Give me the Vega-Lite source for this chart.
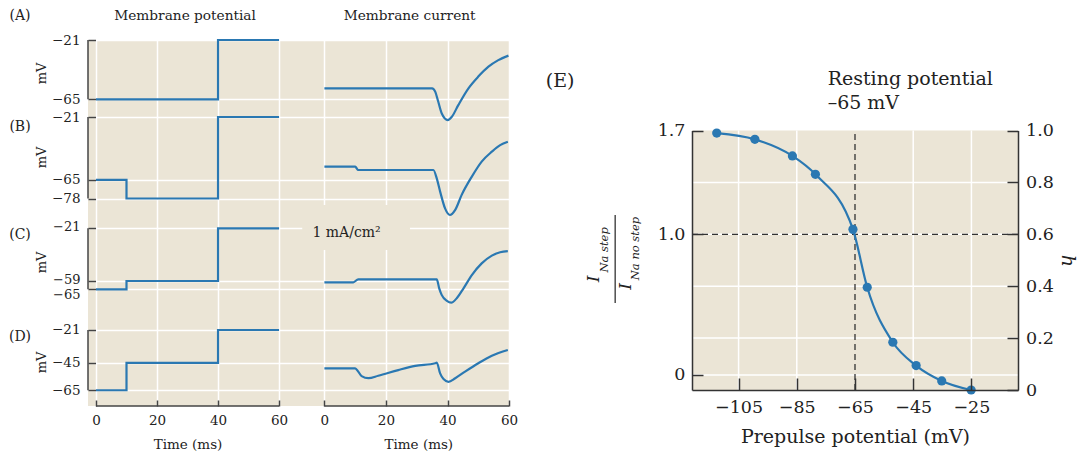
{
"$schema": "https://vega.github.io/schema/vega-lite/v6.json",
"width": 422, "height": 366,
"autosize": {"type": "none"},
"padding": {"left": 88, "top": 40, "right": 570, "bottom": 49},
"background": "white",
"view": {"fill": "#ebe5d6", "stroke": null},
"config": {"font": "DejaVu Serif", "axis": {"labelColor": "#222", "titleColor": "#222", "titleFontWeight": "normal", "labelOverlap": false, "labelFlush": false, "gridOpacity": 1}, "text": {"color": "#222"}},
"datasets": {
 "pot": [
  {"row":"A","t":0,"v":-65},{"row":"A","t":40,"v":-21},{"row":"A","t":60,"v":-21},
  {"row":"B","t":0,"v":-65},{"row":"B","t":10,"v":-78},{"row":"B","t":40,"v":-21},{"row":"B","t":60,"v":-21},
  {"row":"C","t":0,"v":-65},{"row":"C","t":10,"v":-59},{"row":"C","t":40,"v":-21},{"row":"C","t":60,"v":-21},
  {"row":"D","t":0,"v":-65},{"row":"D","t":10,"v":-45},{"row":"D","t":40,"v":-21},{"row":"D","t":60,"v":-21}
 ],
 "cur": [
  {"row":"A","t":0,"i":0},{"row":"A","t":35,"i":0},{"row":"A","t":36,"i":-0.11},{"row":"A","t":37,"i":-0.45},{"row":"A","t":38.1,"i":-0.83},{"row":"A","t":40.1,"i":-1.06},{"row":"A","t":41.4,"i":-0.95},{"row":"A","t":43.5,"i":-0.56},{"row":"A","t":46.8,"i":0},{"row":"A","t":50,"i":0.39},{"row":"A","t":53.3,"i":0.72},{"row":"A","t":56.5,"i":0.94},{"row":"A","t":59.8,"i":1.09},
  {"row":"B","t":0,"i":0},{"row":"B","t":10,"i":0},{"row":"B","t":11,"i":-0.11},{"row":"B","t":35.4,"i":-0.11},{"row":"B","t":36.5,"i":-0.39},{"row":"B","t":37.6,"i":-0.83},{"row":"B","t":39.2,"i":-1.39},{"row":"B","t":40.8,"i":-1.61},{"row":"B","t":42.5,"i":-1.44},{"row":"B","t":44.6,"i":-0.94},{"row":"B","t":47.9,"i":-0.33},{"row":"B","t":51.1,"i":0.17},{"row":"B","t":54.4,"i":0.5},{"row":"B","t":57.1,"i":0.72},{"row":"B","t":59.6,"i":0.83},
  {"row":"C","t":0,"i":0},{"row":"C","t":9.4,"i":0},{"row":"C","t":11,"i":0.1},{"row":"C","t":36.5,"i":0.1},{"row":"C","t":37.3,"i":-0.2},{"row":"C","t":38.1,"i":-0.42},{"row":"C","t":39.8,"i":-0.62},{"row":"C","t":41.2,"i":-0.68},{"row":"C","t":43,"i":-0.53},{"row":"C","t":45.2,"i":-0.2},{"row":"C","t":47.9,"i":0.24},{"row":"C","t":51.1,"i":0.63},{"row":"C","t":54.4,"i":0.89},{"row":"C","t":57.1,"i":1.0},{"row":"C","t":59.6,"i":1.04},
  {"row":"D","t":0,"i":0},{"row":"D","t":10,"i":0},{"row":"D","t":11,"i":-0.11},{"row":"D","t":12.1,"i":-0.26},{"row":"D","t":14.3,"i":-0.33},{"row":"D","t":17.5,"i":-0.25},{"row":"D","t":24,"i":-0.06},{"row":"D","t":29.5,"i":0.08},{"row":"D","t":36,"i":0.17},{"row":"D","t":36.5,"i":0.19},{"row":"D","t":37.6,"i":-0.17},{"row":"D","t":38.7,"i":-0.36},{"row":"D","t":40.3,"i":-0.45},{"row":"D","t":42.5,"i":-0.33},{"row":"D","t":45.7,"i":-0.11},{"row":"D","t":50,"i":0.17},{"row":"D","t":54.4,"i":0.42},{"row":"D","t":59.6,"i":0.61}
 ],
 "inact": [
  {"V":-112.5,"h":0.99},{"V":-99.4,"h":0.966},{"V":-86.5,"h":0.902},{"V":-78.6,"h":0.831},{"V":-65.7,"h":0.619},{"V":-60.8,"h":0.396},{"V":-52,"h":0.184},{"V":-44,"h":0.094},{"V":-35.2,"h":0.035},{"V":-25.1,"h":0.0}
 ],
 "egv": [{"V":-105},{"V":-85},{"V":-45},{"V":-25}],
 "egh": [{"h":0.058},{"h":0.2},{"h":0.4},{"h":0.6},{"h":0.8}]
},
"resolve": {"scale": {"x": "independent", "y": "independent"}, "axis": {"x": "independent", "y": "independent"}},
"layer": [
 {"resolve": {"axis": {"x": "independent", "y": "independent"}},
  "layer": [
  {"data": {"name": "pot"}, "transform": [{"filter": "datum.row === 'A'"}],
   "mark": {"type": "line", "interpolate": "step-after", "color": "#2a78b2", "strokeWidth": 2.2},
   "encoding": {
    "x": {"field": "t", "type": "quantitative", "scale": {"domain": [-2.62, 135.7], "zero": false, "nice": false}, "axis": null},
    "y": {"field": "v", "type": "quantitative", "scale": {"domain": [-292.5, -21], "zero": false, "nice": false},
      "axis": {"orient": "left", "values": [-21, -65], "domain": false, "tickSize": -7.5, "tickColor": "#444", "tickWidth": 1.5, "labelPadding": 15.5, "labelFontSize": 13.5, "grid": true, "gridColor": "white", "gridWidth": 1.5, "title": "mV", "titleFontSize": 13, "titleX": -40, "titleY": 33}}}},
  {"data": {"values": [{}]}, "mark": {"type": "rule", "color": "#444", "strokeWidth": 1.5},
   "encoding": {"x": {"datum": -2.62, "type": "quantitative", "axis": null}, "y": {"datum": -21, "type": "quantitative", "axis": null}, "y2": {"datum": -65}}},
  {"data": {"values": [{}]}, "mark": {"type": "text", "text": "(A)", "fontSize": 14, "dx": -68, "dy": -24},
   "encoding": {"x": {"datum": -2.62, "type": "quantitative", "axis": null}, "y": {"datum": -21, "type": "quantitative", "axis": null}}},
  {"data": {"values": [{}]}, "mark": {"type": "text", "text": "Membrane potential", "fontSize": 13.7, "dy": -24},
   "encoding": {"x": {"datum": 29.2, "type": "quantitative", "axis": null}, "y": {"datum": -21, "type": "quantitative", "axis": null}}}
 ]},
 {"resolve": {"axis": {"x": "independent", "y": "independent"}},
  "layer": [
  {"data": {"name": "pot"}, "transform": [{"filter": "datum.row === 'B'"}],
   "mark": {"type": "line", "interpolate": "step-after", "color": "#2a78b2", "strokeWidth": 2.2},
   "encoding": {
    "x": {"field": "t", "type": "quantitative", "scale": {"domain": [-2.62, 135.7], "zero": false, "nice": false}, "axis": null},
    "y": {"field": "v", "type": "quantitative", "scale": {"domain": [-223.1, 32.85], "zero": false, "nice": false},
      "axis": {"orient": "left", "values": [-21, -65, -78], "domain": false, "tickSize": -7.5, "tickColor": "#444", "tickWidth": 1.5, "labelPadding": 15.5, "labelFontSize": 13.5, "grid": true, "gridColor": "white", "gridWidth": 1.5, "title": "mV", "titleFontSize": 13, "titleX": -40, "titleY": 117}}}},
  {"data": {"values": [{}]}, "mark": {"type": "rule", "color": "#444", "strokeWidth": 1.5},
   "encoding": {"x": {"datum": -2.62, "type": "quantitative", "axis": null}, "y": {"datum": -21, "type": "quantitative", "axis": null}, "y2": {"datum": -78}}},
  {"data": {"values": [{}]}, "mark": {"type": "text", "text": "(B)", "fontSize": 14, "dx": -68, "dy": 10},
   "encoding": {"x": {"datum": -2.62, "type": "quantitative", "axis": null}, "y": {"datum": -21, "type": "quantitative", "axis": null}}}
 ]},
 {"resolve": {"axis": {"x": "independent", "y": "independent"}},
  "layer": [
  {"data": {"name": "pot"}, "transform": [{"filter": "datum.row === 'C'"}],
   "mark": {"type": "line", "interpolate": "step-after", "color": "#2a78b2", "strokeWidth": 2.2},
   "encoding": {
    "x": {"field": "t", "type": "quantitative", "scale": {"domain": [-2.62, 135.7], "zero": false, "nice": false}, "axis": null},
    "y": {"field": "v", "type": "quantitative", "scale": {"domain": [-149.2, 114.9], "zero": false, "nice": false},
      "axis": {"orient": "left", "values": [-21, -59, -65], "domain": false, "tickSize": -7.5, "tickColor": "#444", "tickWidth": 1.5, "labelPadding": 15.5, "labelFontSize": 13, "labelOffset": {"condition": {"test": "datum.value === -65", "value": 5.5}, "value": -1.5}, "grid": true, "gridColor": "white", "gridWidth": 1.5, "title": "mV", "titleFontSize": 13, "titleX": -40, "titleY": 222}}}},
  {"data": {"values": [{}]}, "mark": {"type": "rule", "color": "#444", "strokeWidth": 1.5},
   "encoding": {"x": {"datum": -2.62, "type": "quantitative", "axis": null}, "y": {"datum": -21, "type": "quantitative", "axis": null}, "y2": {"datum": -65}}},
  {"data": {"values": [{}]}, "mark": {"type": "text", "text": "(C)", "fontSize": 14, "dx": -68, "dy": 7},
   "encoding": {"x": {"datum": -2.62, "type": "quantitative", "axis": null}, "y": {"datum": -21, "type": "quantitative", "axis": null}}}
 ]},
 {"resolve": {"axis": {"x": "independent", "y": "independent"}},
  "layer": [
  {"data": {"name": "pot"}, "transform": [{"filter": "datum.row === 'D'"}],
   "mark": {"type": "line", "interpolate": "step-after", "color": "#2a78b2", "strokeWidth": 2.2},
   "encoding": {
    "x": {"field": "t", "type": "quantitative", "scale": {"domain": [-2.62, 135.7], "zero": false, "nice": false},
      "axis": {"orient": "bottom", "values": [0, 20, 40, 60], "domain": false, "tickSize": -6, "tickColor": "#444", "tickWidth": 1.5, "labelPadding": 13, "labelFontSize": 13.5, "grid": true, "gridColor": "white", "gridWidth": 1.5, "title": "Time (ms)", "titleFontSize": 13.5, "titleX": 99.5, "titlePadding": 11}},
    "y": {"field": "v", "type": "quantitative", "scale": {"domain": [-76.5, 190.7], "zero": false, "nice": false},
      "axis": {"orient": "left", "values": [-21, -45, -65], "domain": false, "tickSize": -7.5, "tickColor": "#444", "tickWidth": 1.5, "labelPadding": 15.5, "labelFontSize": 13.5, "grid": true, "gridColor": "white", "gridWidth": 1.5, "title": "mV", "titleFontSize": 13, "titleX": -40, "titleY": 322}}}},
  {"data": {"values": [{}]}, "mark": {"type": "rule", "color": "#444", "strokeWidth": 1.5},
   "encoding": {"x": {"datum": -2.62, "type": "quantitative", "axis": null}, "y": {"datum": -21, "type": "quantitative", "axis": null}, "y2": {"datum": -65}}},
  {"data": {"values": [{}]}, "mark": {"type": "rule", "color": "#444", "strokeWidth": 1.5},
   "encoding": {"x": {"datum": 0, "type": "quantitative", "axis": null}, "x2": {"datum": 60}, "y": {"datum": -76.5, "type": "quantitative", "axis": null}}},
  {"data": {"values": [{}]}, "mark": {"type": "text", "text": "(D)", "fontSize": 14, "dx": -68, "dy": 7},
   "encoding": {"x": {"datum": -2.62, "type": "quantitative", "axis": null}, "y": {"datum": -21, "type": "quantitative", "axis": null}}}
 ]},
 {"resolve": {"axis": {"x": "independent", "y": "independent"}},
  "layer": [
  {"data": {"name": "cur"}, "transform": [{"filter": "datum.row === 'A'"}],
   "mark": {"type": "line", "interpolate": "monotone", "color": "#2a78b2", "strokeWidth": 2.2},
   "encoding": {
    "x": {"field": "t", "type": "quantitative", "scale": {"domain": [-76.8, 60.3], "zero": false, "nice": false}, "axis": null},
    "y": {"field": "i", "type": "quantitative", "scale": {"domain": [-10.59, 1.61], "zero": false, "nice": false}, "axis": null}}},
  {"data": {"values": [{}]}, "mark": {"type": "text", "text": "Membrane current", "fontSize": 13.7, "dy": -24},
   "encoding": {"x": {"datum": 27.7, "type": "quantitative", "axis": null}, "y": {"datum": 1.61, "type": "quantitative", "axis": null}}}
 ]},
 {"data": {"name": "cur"}, "transform": [{"filter": "datum.row === 'B'"}],
  "mark": {"type": "line", "interpolate": "monotone", "color": "#2a78b2", "strokeWidth": 2.2},
  "encoding": {
   "x": {"field": "t", "type": "quantitative", "scale": {"domain": [-76.8, 60.3], "zero": false, "nice": false}, "axis": null},
   "y": {"field": "i", "type": "quantitative", "scale": {"domain": [-7.977, 4.223], "zero": false, "nice": false}, "axis": null}}},
 {"resolve": {"axis": {"x": "independent", "y": "independent"}},
  "layer": [
  {"data": {"name": "cur"}, "transform": [{"filter": "datum.row === 'C'"}],
   "mark": {"type": "line", "interpolate": "monotone", "color": "#2a78b2", "strokeWidth": 2.2},
   "encoding": {
    "x": {"field": "t", "type": "quantitative", "scale": {"domain": [-76.8, 60.3], "zero": false, "nice": false}, "axis": null},
    "y": {"field": "i", "type": "quantitative", "scale": {"domain": [-4.123, 8.077], "zero": false, "nice": false}, "axis": null}}},
  {"data": {"values": [{}]}, "mark": {"type": "rect", "color": "#ebe5d6"},
   "encoding": {"x": {"datum": -7.2, "type": "quantitative", "axis": null}, "x2": {"datum": 27.8}, "y": {"datum": 2.577, "type": "quantitative", "axis": null}, "y2": {"datum": 1.077}}},
  {"data": {"values": [{}]}, "mark": {"type": "text", "text": "1 mA/cm²", "fontSize": 14},
   "encoding": {"x": {"datum": 7.2, "type": "quantitative", "axis": null}, "y": {"datum": 1.644, "type": "quantitative", "axis": null}}}
 ]},
 {"resolve": {"axis": {"x": "independent", "y": "independent"}},
  "layer": [
  {"data": {"name": "cur"}, "transform": [{"filter": "datum.row === 'D'"}],
   "mark": {"type": "line", "interpolate": "monotone", "color": "#2a78b2", "strokeWidth": 2.2},
   "encoding": {
    "x": {"field": "t", "type": "quantitative", "scale": {"domain": [-76.8, 60.3], "zero": false, "nice": false},
      "axis": {"orient": "bottom", "values": [0, 20, 40, 60], "domain": false, "tickSize": -6, "tickColor": "#444", "tickWidth": 1.5, "labelPadding": 13, "labelFontSize": 13.5, "grid": true, "gridColor": "white", "gridWidth": 1.5, "title": "Time (ms)", "titleFontSize": 13.5, "titleX": 330.3, "titlePadding": 11}},
    "y": {"field": "i", "type": "quantitative", "scale": {"domain": [-1.257, 10.943], "zero": false, "nice": false}, "axis": null}}},
  {"data": {"values": [{}]}, "mark": {"type": "rule", "color": "#444", "strokeWidth": 1.5},
   "encoding": {"x": {"datum": 0, "type": "quantitative", "axis": null}, "x2": {"datum": 60}, "y": {"datum": -1.257, "type": "quantitative", "axis": null}}}
 ]},
 {"resolve": {"axis": {"x": "independent", "y": "independent"}},
  "layer": [
  {"data": {"values": [{}]}, "mark": {"type": "rect", "color": "#ebe5d6"},
   "encoding": {
    "x": {"datum": -121, "type": "quantitative", "scale": {"domain": [-121, -9], "range": [604, 930], "zero": false, "nice": false}, "axis": null},
    "x2": {"datum": -9},
    "y": {"datum": 0, "type": "quantitative", "scale": {"domain": [0, 1], "range": [350, 90.5], "zero": false, "nice": false}, "axis": null},
    "y2": {"datum": 1}}},
  {"data": {"name": "egv"}, "mark": {"type": "rule", "color": "white", "strokeWidth": 1.5},
   "encoding": {"x": {"field": "V", "type": "quantitative", "axis": null}, "y": {"datum": 0, "type": "quantitative", "axis": null}, "y2": {"datum": 1}}},
  {"data": {"name": "egh"}, "mark": {"type": "rule", "color": "white", "strokeWidth": 1.5},
   "encoding": {"y": {"field": "h", "type": "quantitative", "axis": null}, "x": {"datum": -121, "type": "quantitative", "axis": null}, "x2": {"datum": -9}}},
  {"data": {"values": [{}]}, "mark": {"type": "rule", "color": "#333", "strokeWidth": 1.3, "strokeDash": [6, 4]},
   "encoding": {"x": {"datum": -65, "type": "quantitative", "axis": null}, "y": {"datum": 0, "type": "quantitative", "axis": null}, "y2": {"datum": 1}}},
  {"data": {"values": [{}]}, "mark": {"type": "rule", "color": "#333", "strokeWidth": 1.3, "strokeDash": [6, 4]},
   "encoding": {"y": {"datum": 0.6, "type": "quantitative", "axis": null}, "x": {"datum": -121, "type": "quantitative", "axis": null}, "x2": {"datum": -9}}},
  {"data": {"name": "inact"}, "mark": {"type": "line", "interpolate": "monotone", "color": "#2a78b2", "strokeWidth": 2.2},
   "encoding": {
    "x": {"field": "V", "type": "quantitative",
      "axis": {"orient": "bottom", "offset": -16, "values": [-105, -85, -65, -45, -25], "domain": true, "domainColor": "#333", "domainWidth": 1.5, "tickSize": -12, "tickColor": "#333", "tickWidth": 1.5, "labelPadding": 20, "labelFontSize": 17.5, "grid": false, "title": "Prepulse potential (mV)", "titleFontSize": 19, "titlePadding": 12, "zindex": 1}},
    "y": {"field": "h", "type": "quantitative",
      "axis": {"orient": "left", "offset": -604, "values": [0.058, 0.6, 1.0], "labelExpr": "datum.value > 0.9 ? '1.7' : datum.value > 0.3 ? '1.0' : '0'", "domain": true, "domainColor": "#333", "domainWidth": 1.5, "tickSize": -11, "tickColor": "#333", "tickWidth": 1.5, "labelPadding": 18, "labelFontSize": 17.5, "grid": false, "title": null, "zindex": 1}}}},
  {"data": {"name": "inact"}, "mark": {"type": "circle", "size": 85, "color": "#2a78b2", "opacity": 1},
   "encoding": {
    "x": {"field": "V", "type": "quantitative", "axis": null},
    "y": {"field": "h", "type": "quantitative",
      "axis": {"orient": "right", "offset": 508, "values": [0, 0.2, 0.4, 0.6, 0.8, 1.0], "labelExpr": "datum.value === 0 ? '0' : format(datum.value, '.1f')", "domain": true, "domainColor": "#333", "domainWidth": 1.5, "tickSize": -11, "tickColor": "#333", "tickWidth": 1.5, "labelPadding": 18.5, "labelFontSize": 17.5, "grid": false, "title": "h", "titleFontSize": 19, "titleFontStyle": "italic", "titlePadding": 4, "zindex": 1}}}},
  {"data": {"values": [{}]}, "mark": {"type": "text", "text": "(E)", "fontSize": 19},
   "encoding": {"x": {"datum": -166.3, "type": "quantitative", "axis": null}, "y": {"datum": 1.192, "type": "quantitative", "axis": null}}},
  {"data": {"values": [{}]}, "mark": {"type": "text", "text": ["Resting potential", "–65 mV"], "fontSize": 19, "align": "left", "baseline": "alphabetic", "lineHeight": 23.5},
   "encoding": {"x": {"datum": -74.4, "type": "quantitative", "axis": null}, "y": {"datum": 1.175, "type": "quantitative", "axis": null}}},
  {"data": {"values": [{}]}, "mark": {"type": "text", "text": "I", "fontSize": 17, "fontStyle": "italic", "angle": 270},
   "encoding": {"x": {"datum": -154.6, "type": "quantitative", "axis": null}, "y": {"datum": 0.428, "type": "quantitative", "axis": null}}},
  {"data": {"values": [{}]}, "mark": {"type": "text", "text": "Na step", "fontSize": 11.5, "fontStyle": "italic", "angle": 270},
   "encoding": {"x": {"datum": -150.8, "type": "quantitative", "axis": null}, "y": {"datum": 0.54, "type": "quantitative", "axis": null}}},
  {"data": {"values": [{}]}, "mark": {"type": "rule", "color": "#222", "strokeWidth": 1.2},
   "encoding": {"x": {"datum": -147.4, "type": "quantitative", "axis": null}, "y": {"datum": 0.674, "type": "quantitative", "axis": null}, "y2": {"datum": 0.335}}},
  {"data": {"values": [{}]}, "mark": {"type": "text", "text": "I", "fontSize": 17, "fontStyle": "italic", "angle": 270},
   "encoding": {"x": {"datum": -143.6, "type": "quantitative", "axis": null}, "y": {"datum": 0.399, "type": "quantitative", "axis": null}}},
  {"data": {"values": [{}]}, "mark": {"type": "text", "text": "Na no step", "fontSize": 11.5, "fontStyle": "italic", "angle": 270},
   "encoding": {"x": {"datum": -140.2, "type": "quantitative", "axis": null}, "y": {"datum": 0.545, "type": "quantitative", "axis": null}}}
 ]}
]
}
